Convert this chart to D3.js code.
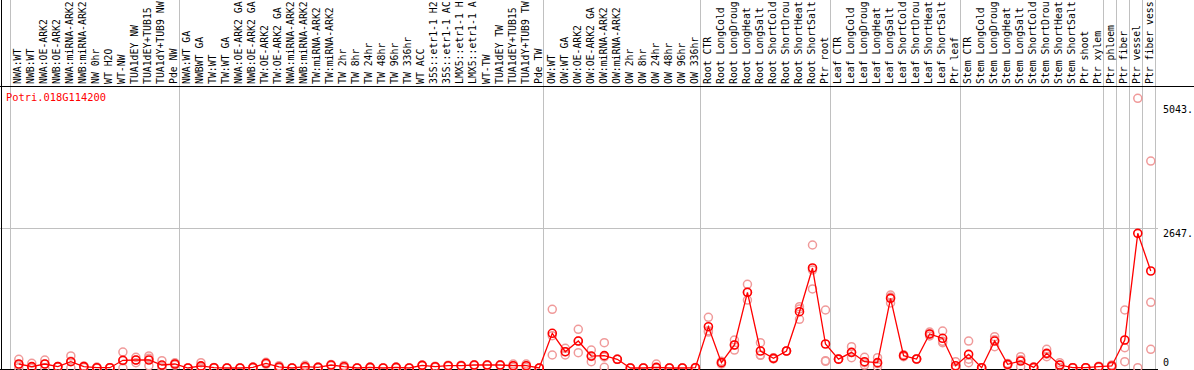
<!DOCTYPE html>
<html>
<head>
<meta charset="utf-8">
<script src="https://cdn.jsdelivr.net/npm/d3@7"></script>
<style>
body{margin:0;background:#fff;}
svg{display:block;font-family:"DejaVu Sans Mono",monospace;font-size:10px;}
</style>
</head>
<body>
<svg id="chart" width="1194" height="370"></svg>
<script>
// gene + sample names (top labels, as far as they fit in the header)
var geneName = "Potri.018G114200";
var samples = [
  "NWA:WT","NWB:WT","NWA:OE-ARK2","NWB:OE-ARK2","NWA:miRNA-ARK2","NWB:miRNA-ARK2","NW 0hr","WT H2O","WT-NW",
  "TUA1dEY NW","TUA1dEY+TUB15","TUA1dY+TUB9 NW","Pde NW",
  "NWA:WT GA","NWBWT GA","TW:WT","TW:WT GA","NWA:OE-ARK2 GA","NWB:OE-ARK2 GA","TW:OE-ARK2","TW:OE-ARK2 GA",
  "NWA:miRNA-ARK2","NWB:miRNA-ARK2","TW:miRNA-ARK2","TW:miRNA-ARK2","TW 2hr","TW 8hr","TW 24hr","TW 48hr","TW 96hr",
  "TW 336hr","WT ACC","35S::etr1-1 H2","35S::etr1-1 AC","LMX5::etr1-1 H","LMX5::etr1-1 A","WT-TW",
  "TUA1dEY TW","TUA1dEY+TUB15","TUA1dY+TUB9 TW","Pde TW",
  "OW:WT","OW:WT GA","OW:OE-ARK2","OW:OE-ARK2 GA","OW:miRNA-ARK2","OW:miRNA-ARK2","OW 2hr","OW 8hr","OW 24hr",
  "OW 48hr","OW 96hr","OW 336hr",
  "Root CTR","Root LongCold","Root LongDroug","Root LongHeat","Root LongSalt","Root ShortCold","Root ShortDrou",
  "Root ShortHeat","Root ShortSalt","Ptr root",
  "Leaf CTR","Leaf LongCold","Leaf LongDroug","Leaf LongHeat","Leaf LongSalt","Leaf ShortCold","Leaf ShortDrou",
  "Leaf ShortHeat","Leaf ShortSalt","Ptr leaf",
  "Stem CTR","Stem LongCold","Stem LongDroug","Stem LongHeat","Stem LongSalt","Stem ShortCold","Stem ShortDrou",
  "Stem ShortHeat","Stem ShortSalt","Ptr shoot","Ptr xylem",
  "Ptr phloem","Ptr fiber","Ptr vessel","Ptr fiber vess"
];
// index of first sample in each experiment block
var groupStarts = [0, 13, 41, 53, 63, 73, 84, 85, 86, 87];

// mean expression per sample
var means = [
  78, 26, 78, 26, 123, 26, 6, 6, 150, 156, 156, 58, 78,
  0, 41, 6, 0, 0, 13, 91, 20, 0, 25, 13, 58, 25, 0, 13, 0, 13, 0, 52, 25, 45, 45, 58, 58, 58, 45, 45, 0,
  675, 317, 525, 233, 240, 169, 0, 0, 13, 0, 0, 6,
  804, 104, 448, 1473, 331, 188, 331, 1096, 1946, 467,
  172, 305, 123, 104, 1356, 240, 175, 662, 578, 45,
  266, 6, 525, 71, 136, 13, 285, 58, 6, 6, 25,
  39, 545, 2621, 1888
];
// replicate values per sample
var reps = [
  [170,60,5],[91,0,0],[156,78,0],[30,25,20],[234,130,5],[40,26,10],[18,0,0],[6,6,6],[311,140,0],[208,156,104],[234,190,45],[143,30,0],[100,78,56],
  [0,0,0],[104,20,0],[10,6,2],[0,0,0],[0,0,0],[20,13,6],[110,91,72],[45,13,0],[0,0,0],[52,20,4],[20,13,6],[70,58,46],[50,25,0],[0,0,0],[20,13,6],[0,0,0],[20,13,6],[0,0,0],
  [60,52,44],[35,25,15],[55,45,35],[55,45,35],[65,58,51],[65,58,51],[65,58,51],[78,45,12],[78,45,12],[0,0,0],
  [1142,630,253],[383,315,253],[753,525,298],[350,226,123],[493,215,13],[169,169,169],[0,0,0],[0,0,0],[78,0,0],[0,0,0],[0,0,0],[10,6,2],
  [986,726,700],[130,104,78],[545,450,350],[1628,1470,1323],[493,253,247],[200,188,176],[331,331,331],[1193,1150,947],[2394,1906,1538],[1129,142,130],
  [175,172,169],[415,300,201],[208,104,58],[201,86,26],[1421,1382,1265],[260,240,220],[180,175,170],[700,662,624],[720,520,493],[123,12,0],
  [525,170,104],[6,6,6],[610,550,415],[90,71,52],[221,160,26],[20,13,6],[364,270,221],[104,58,12],[6,6,6],[6,6,6],[35,25,15],
  [60,39,18],[1129,396,123],[5249,6],[4028,1279,364]
];
var yTicks = [5043, 2647, 0];
var yTickLabels = ["5043.", "2647.", "0"];
var gridValues = [2647];

var W = 1194, H = 370;
var labelBottom = 84, headerY = 86, plotLeft = 10, plotRight = 1155, lineRight = 1158, baseY = 369;
var r = 4;

var svg = d3.select("#chart");

var x = d3.scaleBand().domain(d3.range(samples.length)).range([plotLeft, plotRight]);
var y = d3.scaleLinear().domain([0, 2647]).range([364, 228]);

// marks are drawn from their top-left corner, like the old applet did
function mx(i){ return x(i) + 4.8 + r; }
function my(v){ return y(v) + r; }

var grey = "#c0c0c0";

// group separators
var seps = groupStarts.map(function(g){ return x(g); }).concat([plotRight]);
svg.selectAll("line.sep").data(seps).enter().append("line")
  .attr("class","sep")
  .attr("x1", function(d){ return Math.round(d)+0.5; })
  .attr("x2", function(d){ return Math.round(d)+0.5; })
  .attr("y1", 0).attr("y2", H)
  .attr("stroke", grey);

// grid
svg.selectAll("line.grid").data(gridValues).enter().append("line")
  .attr("class","grid")
  .attr("x1", 0).attr("x2", lineRight)
  .attr("y1", function(d){ return Math.round(y(d))+0.5; })
  .attr("y2", function(d){ return Math.round(y(d))+0.5; })
  .attr("stroke", grey);

// frame
svg.append("line").attr("x1",0).attr("x2",W).attr("y1",headerY+0.5).attr("y2",headerY+0.5).attr("stroke","#000");
svg.append("line").attr("x1",1.5).attr("x2",1.5).attr("y1",0).attr("y2",H).attr("stroke","#000");
svg.append("line").attr("x1",0).attr("x2",lineRight).attr("y1",baseY+0.5).attr("y2",baseY+0.5).attr("stroke","#000");

// sample labels
svg.selectAll("text.sample").data(samples).enter().append("text")
  .attr("class","sample")
  .attr("transform", function(d,i){ return "translate(" + (mx(i)+2.3) + "," + labelBottom + ") rotate(-90)"; })
  .attr("font-size","9.8px")
  .attr("fill","#000")
  .text(function(d){ return d; });

// gene name
svg.append("text").attr("x",6).attr("y",101).attr("font-size","10.4px").attr("fill","#ff0000").text(geneName);

// y labels on the right
svg.selectAll("text.ytick").data(yTicks).enter().append("text")
  .attr("class","ytick")
  .attr("x", 1163)
  .attr("y", function(d){ return Math.min(y(d)+8.5, H-4); })
  .attr("fill","#000")
  .text(function(d,i){ return yTickLabels[i]; });

// replicates
var repPts = [];
reps.forEach(function(rs,i){ rs.forEach(function(v){ repPts.push([i,v]); }); });
svg.selectAll("circle.rep").data(repPts).enter().append("circle")
  .attr("class","rep")
  .attr("cx", function(d){ return mx(d[0]); })
  .attr("cy", function(d){ return my(d[1]); })
  .attr("r", r)
  .attr("fill","none")
  .attr("stroke","#f09a9a")
  .attr("stroke-width",1.5);

// mean line
var line = d3.line()
  .x(function(d,i){ return mx(i); })
  .y(function(d){ return my(d); });
svg.append("path").datum(means)
  .attr("d", line)
  .attr("fill","none")
  .attr("stroke","#ff0000")
  .attr("stroke-width",1.3);

svg.selectAll("circle.mean").data(means).enter().append("circle")
  .attr("class","mean")
  .attr("cx", function(d,i){ return mx(i); })
  .attr("cy", function(d){ return my(d); })
  .attr("r", r)
  .attr("fill","none")
  .attr("stroke","#ff0000")
  .attr("stroke-width",1.6);
</script>
</body>
</html>
